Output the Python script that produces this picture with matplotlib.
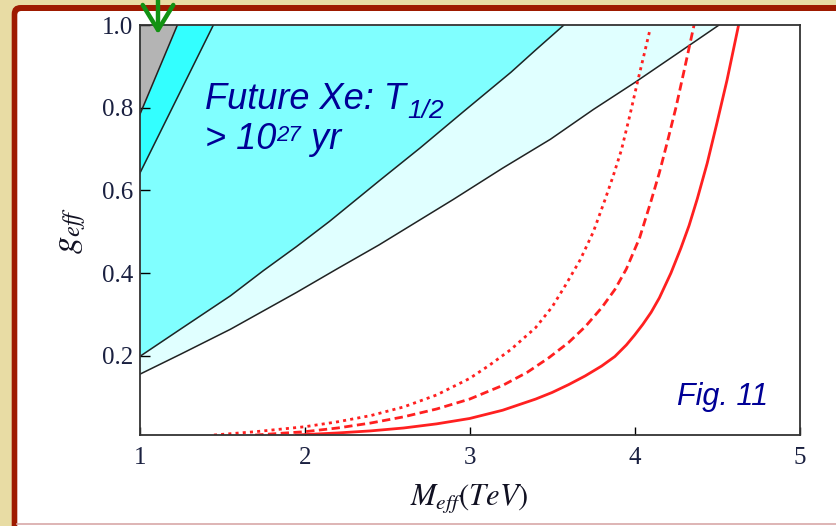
import matplotlib
matplotlib.use("Agg")
import matplotlib.pyplot as plt
from matplotlib.patches import FancyBboxPatch
from matplotlib.lines import Line2D
from matplotlib.transforms import IdentityTransform

plt.rcParams['mathtext.fontset'] = 'stix'

# границы областей (M_eff в ТэВ, g_eff)
m_gray = [1.0, 1.228]
g_gray = [0.783, 1.0]
m_bright = [1.0, 1.446]
g_bright = [0.641, 1.0]
m_mid = [1.0, 1.25, 1.55, 1.75, 1.95, 2.15, 2.46, 2.7, 2.96, 3.25, 3.4, 3.57]
g_mid = [0.198, 0.265, 0.345, 0.406, 0.464, 0.525, 0.626, 0.703, 0.79, 0.886, 0.94, 1.0]
m_light = [1.0, 1.25, 1.55, 1.95, 2.2, 2.45, 2.9, 3.2, 3.49, 3.75, 4.0, 4.25, 4.51]
g_light = [0.155, 0.204, 0.264, 0.353, 0.411, 0.468, 0.578, 0.654, 0.724, 0.796, 0.861, 0.929, 1.0]

# красные кривые
m_sol = [1.95, 2.2, 2.4, 2.6, 2.8, 3.0, 3.2, 3.4, 3.5, 3.6, 3.7, 3.8, 3.88, 3.95, 4.0, 4.05, 4.1,
         4.15, 4.22, 4.28, 4.33, 4.38, 4.44, 4.5, 4.56, 4.63]
g_sol = [0.008, 0.013, 0.018, 0.025, 0.035, 0.048, 0.068, 0.095, 0.111, 0.13, 0.151, 0.175, 0.198,
         0.226, 0.25, 0.276, 0.305, 0.34, 0.40, 0.46, 0.515, 0.58, 0.666, 0.765, 0.867, 1.0]
m_dash = [1.7, 2.0, 2.2, 2.4, 2.6, 2.8, 3.0, 3.2, 3.35, 3.48, 3.6, 3.7, 3.8, 3.88, 3.95,
          4.03, 4.1, 4.15, 4.2, 4.25, 4.3, 4.36]
g_dash = [0.008, 0.016, 0.025, 0.037, 0.052, 0.071, 0.095, 0.128, 0.16, 0.195, 0.232, 0.27,
          0.316, 0.36, 0.41, 0.485, 0.575, 0.643, 0.72, 0.80, 0.89, 1.0]
m_dot = [1.45, 1.7, 2.0, 2.2, 2.4, 2.6, 2.8, 3.0, 3.12, 3.25, 3.4, 3.5, 3.58, 3.67, 3.75,
         3.82, 3.87, 3.92, 3.97, 4.02, 4.055, 4.09]
g_dot = [0.008, 0.016, 0.028, 0.04, 0.055, 0.076, 0.105, 0.145, 0.177, 0.215, 0.268, 0.318,
         0.37, 0.432, 0.50, 0.577, 0.635, 0.698, 0.78, 0.867, 0.925, 0.984]

xticks = [1, 2, 3, 4, 5]
yticks = [0.2, 0.4, 0.6, 0.8, 1.0]

fig = plt.figure(figsize=(8.36, 5.26), dpi=100, facecolor='#E8DCA4')

# рамка слайда
red = FancyBboxPatch((11.7, -40), 900, 521 + 40, boxstyle='round,pad=0,rounding_size=9',
                     transform=IdentityTransform(), facecolor='#9E1A00', edgecolor='none', zorder=-5)
white = FancyBboxPatch((17.3, -40), 900, 515 + 40, boxstyle='round,pad=0,rounding_size=4',
                       transform=IdentityTransform(), facecolor='white', edgecolor='none', zorder=-4)
fig.add_artist(red)
fig.add_artist(white)
fig.add_artist(Line2D([17, 836], [2, 2], transform=IdentityTransform(), color='#D8A8A8', lw=1.2, zorder=-3))

ax = fig.add_axes([139.7 / 836, 1 - 434.6 / 526, (799.6 - 139.7) / 836, (434.6 - 25.2) / 526])
ax.set_facecolor('white')

ax.fill_between(m_light, g_light, 1.0, color='#E0FFFF', lw=0)
ax.fill_between(m_mid, g_mid, 1.0, color='#80FFFF', lw=0)
ax.fill_between(m_bright, g_bright, 1.0, color='#33FFFF', lw=0)
ax.fill_between(m_gray, g_gray, 1.0, color='#B4B4B4', lw=0)
for mm, gg in [(m_light, g_light), (m_mid, g_mid), (m_bright, g_bright), (m_gray, g_gray)]:
    ax.plot(mm, gg, color='#222222', lw=1.1)

ax.plot(m_sol, g_sol, color='#FF2020', lw=2.0)
ax.plot(m_dash, g_dash, color='#FF2020', lw=2.0, dashes=(3.0, 1.6))
ax.plot(m_dot, g_dot, color='#FF2020', lw=2.0, dashes=(1.1, 1.5))

ax.set_xlim(1, 5)
ax.set_ylim(0.009, 1.0)
ax.set_xticks(xticks)
ax.set_xticklabels([str(t) for t in xticks])
ax.set_yticks(yticks)
ax.set_yticklabels(['%.1f' % t for t in yticks])
ax.tick_params(direction='in', width=1.0, labelsize=18, labelcolor='#1a2040', top=False, right=False)
ax.tick_params(axis='y', length=7, pad=5)
ax.tick_params(axis='x', length=6, pad=9)
for lab in ax.get_xticklabels() + ax.get_yticklabels():
    lab.set_family('Liberation Serif')
for s in ax.spines.values():
    s.set_linewidth(1.3)
    s.set_color('#333333')

ax.set_xlabel(r'$M_{eff}(TeV)$', fontsize=22, labelpad=9, color='#111122')
ax.set_ylabel(r'$g_{eff}$', fontsize=25, labelpad=10, color='#111122')

# подписи
navy = '#000096'
t1 = ax.text(1.396, 0.797, 'Future Xe: T', fontsize=26, style='italic', family='Liberation Sans',
             color=navy, va='baseline')
ax.annotate('1/2', xy=(1, 0), xycoords=t1, xytext=(1, -4), textcoords='offset points',
            fontsize=19, style='italic', family='Liberation Sans', color=navy, va='bottom')
t2 = ax.text(1.396, 0.700, '> 10', fontsize=26, style='italic', family='Liberation Sans',
             color=navy, va='baseline')
sup = ax.annotate('27', xy=(1, 1), xycoords=t2, xytext=(0, -2), textcoords='offset points',
                  fontsize=16, style='italic', family='Liberation Sans', color=navy, va='top')
ax.annotate(' yr', xy=(1, 0), xycoords=(sup, t2), fontsize=26, style='italic',
            family='Liberation Sans', color=navy, va='bottom')
ax.text(4.254, 0.080, 'Fig. 11', fontsize=22, style='italic', family='Liberation Sans',
        color=navy, va='baseline')

# зелёная стрелка
ax.annotate('', xy=(158, 489), xycoords='figure pixels', xytext=(158, 540), textcoords='figure pixels',
            arrowprops=dict(arrowstyle='->,head_length=1.8,head_width=1.1', color='#139213', lw=3.2),
            annotation_clip=False, zorder=10)

fig.savefig('out.png', dpi=100, facecolor=fig.get_facecolor())
